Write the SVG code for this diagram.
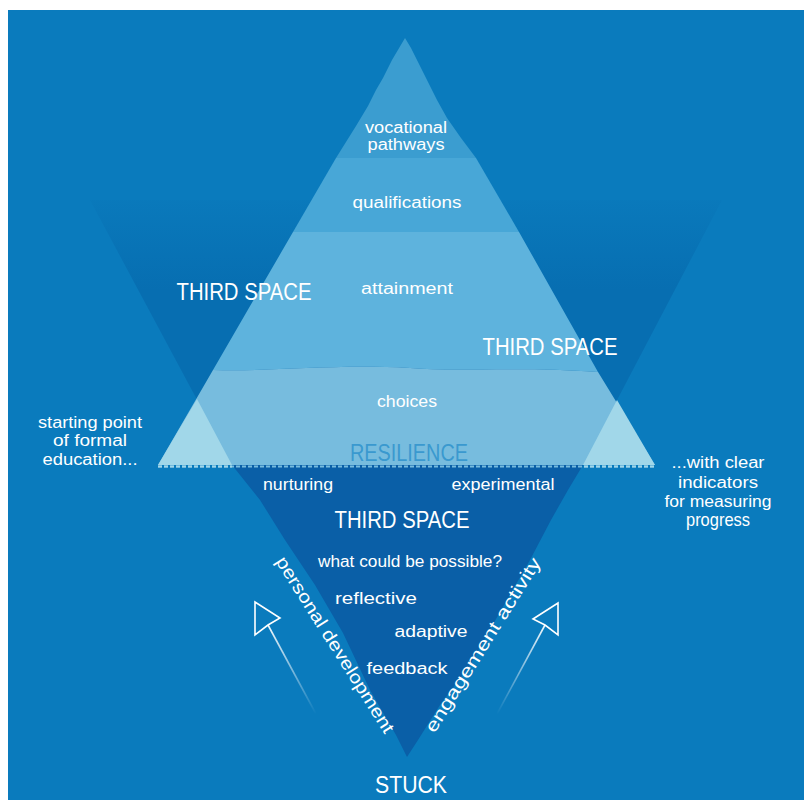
<svg xmlns="http://www.w3.org/2000/svg" width="804" height="800" viewBox="0 0 804 800">
<defs>
<linearGradient id="vfade" x1="0" y1="185" x2="0" y2="290" gradientUnits="userSpaceOnUse">
<stop offset="0" stop-color="#076EB1" stop-opacity="0"/>
<stop offset="1" stop-color="#076EB1" stop-opacity="1"/>
</linearGradient>
<linearGradient id="shaftL" x1="268" y1="625" x2="316" y2="714" gradientUnits="userSpaceOnUse">
<stop offset="0" stop-color="#FFFFFF" stop-opacity="0.95"/>
<stop offset="1" stop-color="#FFFFFF" stop-opacity="0"/>
</linearGradient>
<linearGradient id="shaftR" x1="545" y1="625" x2="497" y2="714" gradientUnits="userSpaceOnUse">
<stop offset="0" stop-color="#FFFFFF" stop-opacity="0.95"/>
<stop offset="1" stop-color="#FFFFFF" stop-opacity="0"/>
</linearGradient>
<style>
.t{font-family:"Liberation Sans","DejaVu Sans",sans-serif;fill:#FFFFFF;text-anchor:middle}
.s{font-size:16px}
.caps{font-size:23px}
.head{fill:none;stroke:#FFFFFF;stroke-width:1.6;stroke-linejoin:miter}
</style>
</defs>
<rect x="0" y="0" width="804" height="800" fill="#FFFFFF"/>
<rect id="background" x="8" y="10" width="796" height="790" fill="#0A7BBD"/>

<g id="third-space-v">
<polygon points="90,200 722,200 583,465 232,465" fill="url(#vfade)"/>
</g>
<g id="underwater">
<polygon points="232,465 583,465 568,490 551,520 530,560 500,612 470,665 440,705 418,740 407,757 396,735 370,690 343,633 315,585 285,540 260,500" fill="#0A5FA7"/>
</g>
<g id="pyramid">
<polygon points="405,38 392,60 383,78 376,90 368,106 356,126 346,142 336,158 476,158 461,138 447,118 437,100 428,82 418,62 411,48" fill="#3B9DD0"/>
<polygon points="336,158 476,158 519,232 293,232" fill="#48A7D7"/>
<path d="M293,232 L519,232 L598,372 C520,366 460,372 410,368 C330,364 270,372 213,370 Z" fill="#5EB3DD"/>
<path d="M213,370 C270,372 330,364 410,368 C460,372 520,366 598,372 L655,465 L158,465 Z" fill="#77BCDE"/>
<polygon points="158,465 197,399 232,465" fill="#A1D7E9"/>
<polygon points="617,400 655,465 583,465" fill="#A1D7E9"/>
<line x1="158" y1="466.5" x2="655" y2="466.5" stroke="#77BCDE" stroke-width="2" stroke-dasharray="4 2"/>
<line x1="158" y1="466.5" x2="232" y2="466.5" stroke="#A1D7E9" stroke-width="2" stroke-dasharray="4 2"/>
<line x1="584" y1="466.5" x2="655" y2="466.5" stroke="#A1D7E9" stroke-width="2" stroke-dasharray="4 2"/>
</g>

<g id="connectors">
<g id="arrow-personal">
<line x1="268" y1="625" x2="316" y2="714" stroke="url(#shaftL)" stroke-width="1.6"/>
<polygon class="head" points="255,602 255,635 268,625 280,618"/>
</g>
<g id="arrow-engagement">
<line x1="545" y1="625" x2="497" y2="714" stroke="url(#shaftR)" stroke-width="1.6"/>
<polygon class="head" points="558,603 558,635 545,625 533,619"/>
</g>
</g>

<g id="vocational-pathways"><text class="t s" x="406" y="133" textLength="82" lengthAdjust="spacingAndGlyphs">vocational</text><text class="t s" x="406" y="150" textLength="77" lengthAdjust="spacingAndGlyphs">pathways</text></g>
<g id="qualifications"><text class="t s" x="407" y="208" textLength="109" lengthAdjust="spacingAndGlyphs">qualifications</text></g>
<g id="attainment"><text class="t s" x="407" y="294" textLength="92" lengthAdjust="spacingAndGlyphs">attainment</text></g>
<g id="third-space-left"><text class="t caps" x="244" y="300" textLength="135" lengthAdjust="spacingAndGlyphs">THIRD SPACE</text></g>
<g id="third-space-right"><text class="t caps" x="550" y="355" textLength="135" lengthAdjust="spacingAndGlyphs">THIRD SPACE</text></g>
<g id="choices"><text class="t s" x="407" y="407" textLength="60" lengthAdjust="spacingAndGlyphs">choices</text></g>
<g id="resilience"><text class="t caps" x="409" y="461" textLength="118" lengthAdjust="spacingAndGlyphs" style="fill:#3A99CF">RESILIENCE</text></g>
<g id="starting-point"><text class="t s" x="90" y="428" textLength="104" lengthAdjust="spacingAndGlyphs">starting point</text><text class="t s" x="90" y="446" textLength="74" lengthAdjust="spacingAndGlyphs">of formal</text><text class="t s" x="90" y="465" textLength="95" lengthAdjust="spacingAndGlyphs">education...</text></g>
<g id="clear-indicators"><text class="t s" x="718" y="468" textLength="93" lengthAdjust="spacingAndGlyphs">...with clear</text><text class="t s" x="718" y="488" textLength="80" lengthAdjust="spacingAndGlyphs">indicators</text><text class="t s" x="718" y="507" textLength="107" lengthAdjust="spacingAndGlyphs">for measuring</text><text class="t" style="font-size:18.5px" x="718" y="526" textLength="64" lengthAdjust="spacingAndGlyphs">progress</text></g>
<g id="nurturing"><text class="t s" x="298" y="490" textLength="70" lengthAdjust="spacingAndGlyphs">nurturing</text></g>
<g id="experimental"><text class="t s" x="503" y="490" textLength="103" lengthAdjust="spacingAndGlyphs">experimental</text></g>
<g id="third-space-bottom"><text class="t caps" x="402" y="528" textLength="135" lengthAdjust="spacingAndGlyphs">THIRD SPACE</text></g>
<g id="what-could-be-possible"><text class="t s" x="410" y="567" textLength="184" lengthAdjust="spacingAndGlyphs">what could be possible?</text></g>
<g id="reflective"><text class="t s" x="376" y="604" textLength="82" lengthAdjust="spacingAndGlyphs">reflective</text></g>
<g id="adaptive"><text class="t s" x="431" y="637" textLength="73" lengthAdjust="spacingAndGlyphs">adaptive</text></g>
<g id="feedback"><text class="t s" x="407" y="674" textLength="81" lengthAdjust="spacingAndGlyphs">feedback</text></g>
<g id="personal-development"><text class="t" style="font-size:18px" transform="translate(330,648) rotate(57.7)" textLength="205" lengthAdjust="spacingAndGlyphs">personal development</text></g>
<g id="engagement-activity"><text class="t" style="font-size:18px" transform="translate(488,648) rotate(-58)" textLength="202" lengthAdjust="spacingAndGlyphs">engagement activity</text></g>
<g id="stuck"><text class="t caps" x="411" y="793" textLength="72" lengthAdjust="spacingAndGlyphs">STUCK</text></g>
</svg>
